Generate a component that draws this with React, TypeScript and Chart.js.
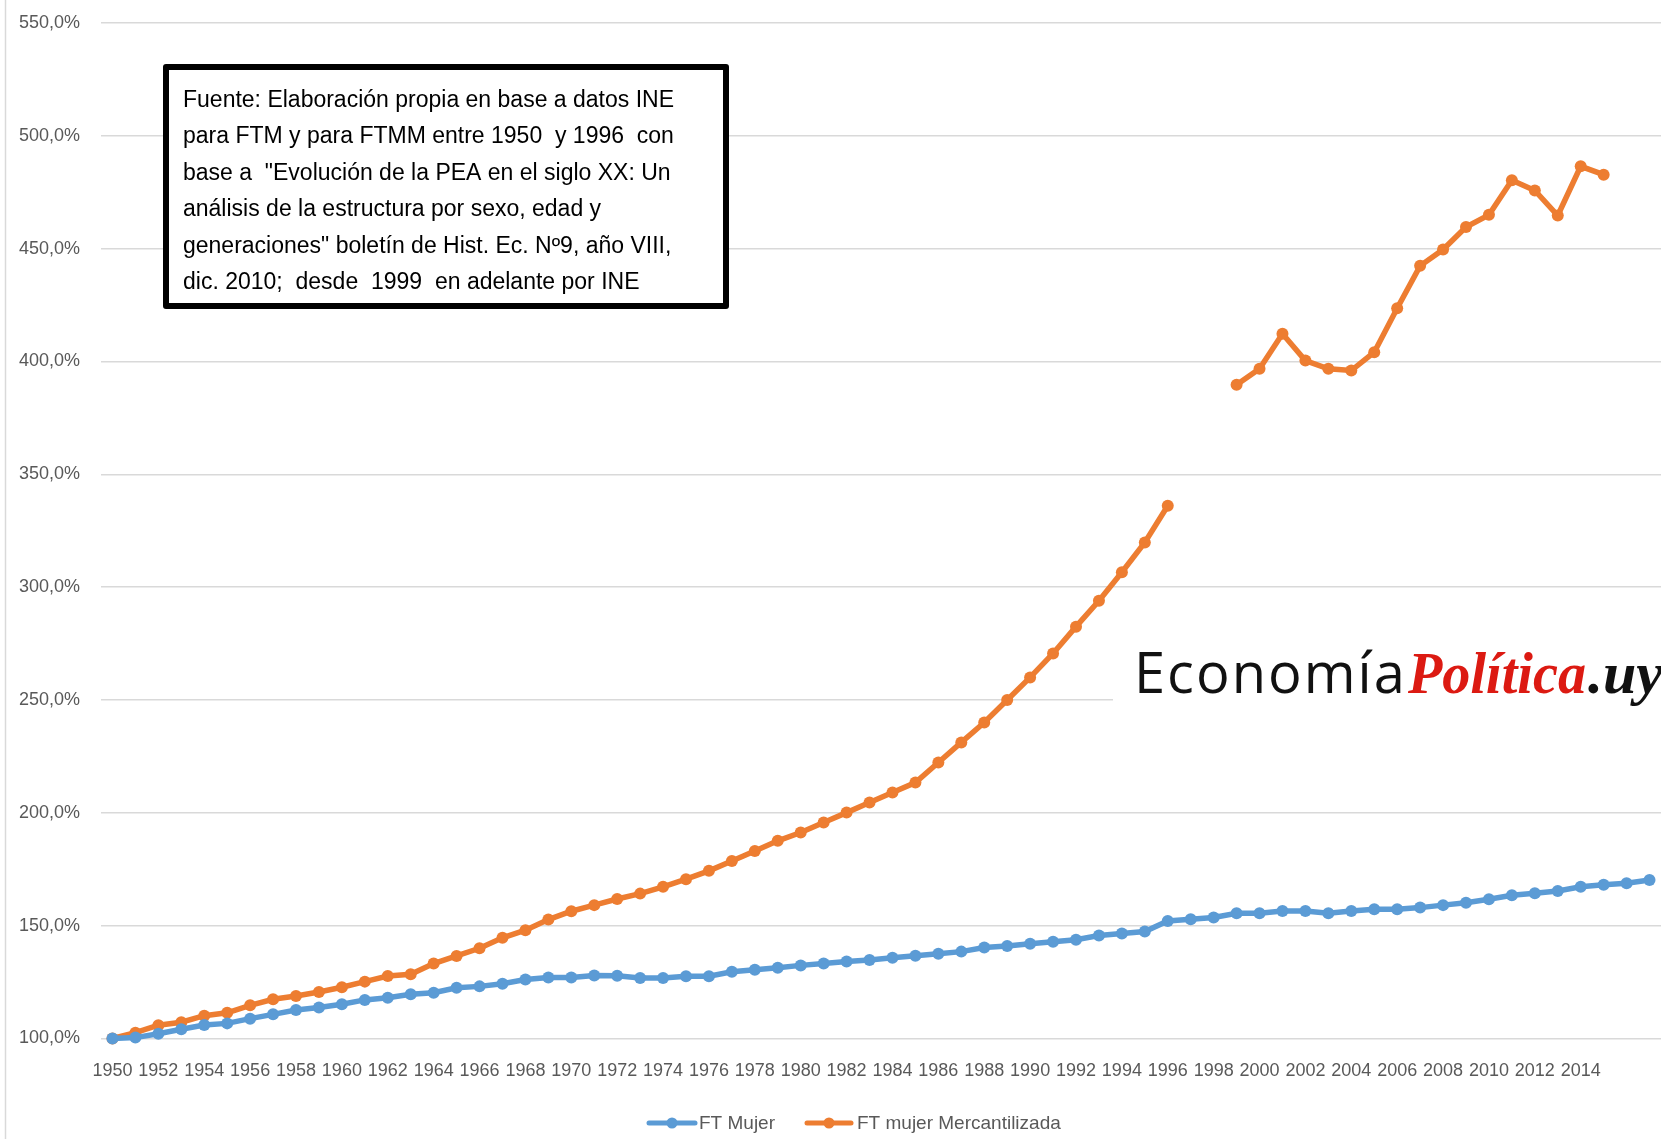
import React, { useEffect, useRef } from 'react';
import { Chart, registerables } from 'chart.js';

Chart.register(...registerables);

const years: string[] = [
  '1950', '1951', '1952', '1953', '1954', '1955', '1956', '1957', '1958', '1959',
  '1960', '1961', '1962', '1963', '1964', '1965', '1966', '1967', '1968', '1969',
  '1970', '1971', '1972', '1973', '1974', '1975', '1976', '1977', '1978', '1979',
  '1980', '1981', '1982', '1983', '1984', '1985', '1986', '1987', '1988', '1989',
  '1990', '1991', '1992', '1993', '1994', '1995', '1996', '1997', '1998', '1999',
  '2000', '2001', '2002', '2003', '2004', '2005', '2006', '2007', '2008', '2009',
  '2010', '2011', '2012', '2013', '2014', '2015', '2016', '2017',
];

// Tick labels shown on the category axis (every other year, up to 2014)
const xTickLabels: string[] = [
  '1950', '1952', '1954', '1956', '1958', '1960', '1962', '1964', '1966', '1968',
  '1970', '1972', '1974', '1976', '1978', '1980', '1982', '1984', '1986', '1988',
  '1990', '1992', '1994', '1996', '1998', '2000', '2002', '2004', '2006', '2008',
  '2010', '2012', '2014',
];

const ftMujer: number[] = [
  100.0, 100.4, 102.1, 104.1, 106.0, 106.7, 108.8, 110.7, 112.6, 113.7,
  115.2, 117.1, 118.1, 119.6, 120.3, 122.5, 123.1, 124.3, 126.1, 127.0,
  127.0, 127.9, 127.8, 126.8, 126.8, 127.6, 127.6, 129.6, 130.5, 131.4,
  132.4, 133.2, 134.1, 134.8, 135.8, 136.7, 137.6, 138.5, 140.3, 141.0,
  142.0, 142.9, 143.8, 145.6, 146.5, 147.4, 152.1, 152.8, 153.6, 155.5,
  155.5, 156.5, 156.5, 155.5, 156.5, 157.3, 157.3, 158.0, 159.1, 160.2,
  161.7, 163.5, 164.4, 165.4, 167.2, 168.1, 168.8, 170.2,
];

const ftMujerMercantilizada: (number | null)[] = [
  100.0, 102.6, 105.9, 107.2, 110.1, 111.4, 114.7, 117.4, 118.8, 120.6,
  122.7, 125.2, 127.7, 128.5, 133.2, 136.6, 140.0, 144.6, 148.0, 152.7,
  156.4, 159.1, 161.8, 164.2, 167.2, 170.6, 174.3, 178.7, 183.1, 187.6,
  191.3, 195.7, 200.1, 204.6, 209.0, 213.4, 222.3, 231.2, 240.0, 250.0,
  260.0, 270.6, 282.5, 294.0, 306.6, 319.8, 336.1, null, null, 389.7,
  396.8, 412.3, 400.4, 396.8, 396.0, 404.1, 423.6, 442.4, 449.6, 459.6,
  465.0, 480.3, 475.8, 464.7, 486.5, 482.8, null, null,
];

const yMin = 100;
const yMax = 550;
const yStep = 50;

const seriesNames = ['FT Mujer', 'FT mujer Mercantilizada'];
const seriesColors = ['#5b9bd5', '#ed7d31'];

const noteLines: string[] = [
  'Fuente: Elaboración propia en base a datos INE',
  'para FTM y para FTMM entre 1950  y 1996  con',
  'base a  "Evolución de la PEA en el siglo XX: Un',
  'análisis de la estructura por sexo, edad y',
  'generaciones" boletín de Hist. Ec. Nº9, año VIII,',
  'dic. 2010;  desde  1999  en adelante por INE',
];

const NARROW = '"Liberation Sans Narrow", "Liberation Sans", Arial, sans-serif';
const TEXT_GRAY = '#595959';

const decorPlugin = {
  id: 'decor',
  beforeDraw(chart: any) {
    const ctx = chart.ctx;
    ctx.save();
    ctx.fillStyle = '#ffffff';
    ctx.fillRect(0, 0, chart.width, chart.height);
    ctx.restore();
  },
  afterDraw(chart: any) {
    const ctx = chart.ctx;
    ctx.save();
    // outer chart border (left edge)
    ctx.strokeStyle = '#d9d9d9';
    ctx.lineWidth = 1.5;
    ctx.beginPath();
    ctx.moveTo(5.5, 0);
    ctx.lineTo(5.5, chart.height);
    ctx.stroke();

    // note box
    ctx.fillStyle = '#ffffff';
    ctx.fillRect(166, 67, 560, 239);
    ctx.strokeStyle = '#000000';
    ctx.lineWidth = 6;
    ctx.lineJoin = 'round';
    ctx.strokeRect(166, 67, 560, 239);
    ctx.fillStyle = '#000000';
    ctx.font = `23px ${NARROW}`;
    ctx.textBaseline = 'alphabetic';
    ctx.textAlign = 'left';
    noteLines.forEach((line, i) => {
      ctx.fillText(line, 183, 106.5 + i * 36.5, 530);
    });

    // watermark
    ctx.fillStyle = '#ffffff';
    ctx.fillRect(1113, 605, chart.width - 1113, 105);
    ctx.fillStyle = '#111111';
    ctx.font = '56px "Open Sans", "Noto Sans", sans-serif';
    (ctx as any).letterSpacing = '2px';
    ctx.fillText('Economía', 1134, 693);
    (ctx as any).letterSpacing = '0px';
    ctx.fillStyle = '#dc1a12';
    ctx.font = 'italic bold 60px "Liberation Serif", "DejaVu Serif", serif';
    ctx.fillText('Política', 1408, 693, 178);
    ctx.fillStyle = '#111111';
    ctx.fillText('.uy', 1588, 693);

    // legend
    const legendY = 1123;
    const items = [
      { x0: 647, x1: 697, tx: 699 },
      { x0: 805, x1: 853, tx: 857 },
    ];
    ctx.font = `19px ${NARROW}`;
    ctx.textBaseline = 'middle';
    items.forEach((it, i) => {
      ctx.strokeStyle = seriesColors[i];
      ctx.fillStyle = seriesColors[i];
      ctx.lineWidth = 5;
      ctx.lineCap = 'round';
      ctx.beginPath();
      ctx.moveTo(it.x0 + 2, legendY);
      ctx.lineTo(it.x1 - 2, legendY);
      ctx.stroke();
      ctx.beginPath();
      ctx.arc((it.x0 + it.x1) / 2, legendY, 5.5, 0, Math.PI * 2);
      ctx.fill();
      ctx.fillStyle = TEXT_GRAY;
      ctx.fillText(seriesNames[i], it.tx, legendY + 1);
    });
    ctx.restore();
  },
};

export default function App() {
  const canvasRef = useRef<HTMLCanvasElement | null>(null);

  useEffect(() => {
    document.body.style.margin = '0';
    const canvas = canvasRef.current;
    if (!canvas) return;
    const chart = new Chart(canvas, {
      type: 'line',
      data: {
        labels: years,
        datasets: [
          {
            label: seriesNames[0],
            data: ftMujer,
            borderColor: seriesColors[0],
            backgroundColor: seriesColors[0],
            pointBackgroundColor: seriesColors[0],
            pointBorderWidth: 0,
            pointRadius: 6,
            borderWidth: 5.5,
            tension: 0,
            spanGaps: false,
            clip: false,
          },
          {
            label: seriesNames[1],
            data: ftMujerMercantilizada,
            borderColor: seriesColors[1],
            backgroundColor: seriesColors[1],
            pointBackgroundColor: seriesColors[1],
            pointBorderWidth: 0,
            pointRadius: 6,
            borderWidth: 5.5,
            tension: 0,
            spanGaps: false,
            clip: false,
          },
        ],
      },
      options: {
        responsive: false,
        animation: false,
        layout: { autoPadding: false, padding: { top: 23, right: 0, bottom: 0, left: 0 } },
        plugins: {
          legend: { display: false },
          tooltip: { enabled: false },
        },
        scales: {
          x: {
            offset: true,
            grid: { display: false, drawTicks: false },
            border: { display: false },
            afterFit: (scale: any) => {
              scale.height = 100.5;
              scale.paddingLeft = 0;
              scale.paddingRight = 0;
            },
            ticks: {
              autoSkip: false,
              maxRotation: 0,
              minRotation: 0,
              padding: 22,
              color: TEXT_GRAY,
              font: { family: NARROW, size: 18 },
              callback: function (this: any, _val: any, idx: number) {
                const lbl = years[idx];
                return xTickLabels.includes(lbl) ? lbl : '';
              },
            },
          },
          y: {
            min: yMin,
            max: yMax,
            grid: { color: '#d9d9d9', lineWidth: 1.5, drawTicks: false },
            border: { display: false },
            afterFit: (scale: any) => {
              scale.width = 101;
              scale.paddingTop = 0;
              scale.paddingBottom = 0;
            },
            ticks: {
              stepSize: yStep,
              padding: 21,
              color: TEXT_GRAY,
              font: { family: NARROW, size: 18 },
              callback: (v: any) => Number(v).toFixed(1).replace('.', ',') + '%',
            },
          },
        },
      },
      plugins: [decorPlugin],
    });
    return () => chart.destroy();
  }, []);

  return (
    <div style={{ position: 'absolute', left: 0, top: 0, width: 1661, height: 1139 }}>
      <canvas ref={canvasRef} width={1661} height={1139} />
    </div>
  );
}
